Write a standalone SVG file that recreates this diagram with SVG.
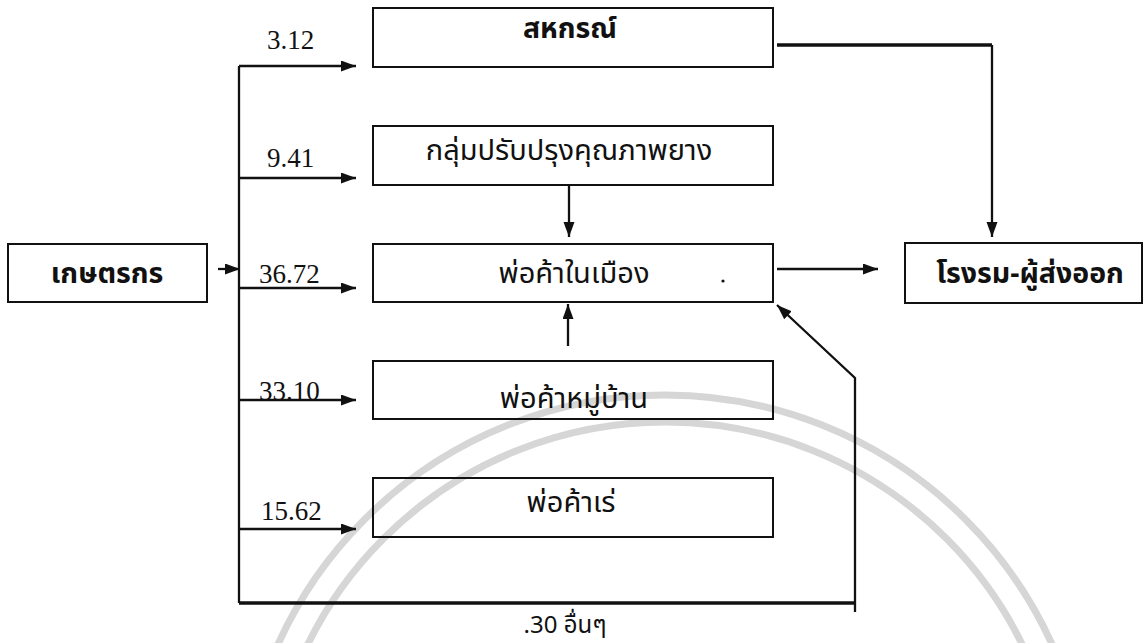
<svg xmlns="http://www.w3.org/2000/svg" width="1148" height="643" viewBox="0 0 1148 643">
<style>
.box{fill:none;stroke:#111;stroke-width:2}
.th{font-family:"Noto Sans Thai","Noto Sans Thai UI","Noto Sans","DejaVu Sans",sans-serif;font-size:29px;fill:#111;text-anchor:middle}
.b{font-weight:bold;font-size:28.5px}
.num{font-family:"Liberation Serif",serif;font-size:27px;fill:#111}
.c{fill:none;stroke:#111;stroke-width:2.3}
.thick{stroke-width:3.4}
.wm{fill:none;stroke:#d6d6d6;stroke-width:7}
</style>
<defs>
<marker id="ah" markerUnits="userSpaceOnUse" markerWidth="16" markerHeight="12" refX="15" refY="5.5" orient="auto"><path d="M0,0 L15,5.5 L0,11 z" fill="#111"/></marker>
</defs>
<rect x="0" y="0" width="1148" height="643" fill="#fff"/>
<g id="watermark">
<circle class="wm" cx="665" cy="820" r="425"/>
<circle class="wm" cx="665" cy="820" r="398"/>
</g>
<g id="connectors">
<polyline class="c" points="239,66 239,603"/>
<line class="c thick" x1="239" y1="603" x2="855" y2="603"/>
<line class="c" x1="239" y1="66" x2="356" y2="66" marker-end="url(#ah)"/>
<line class="c" x1="239" y1="178" x2="356" y2="178" marker-end="url(#ah)"/>
<line class="c" x1="239" y1="288" x2="356" y2="288" marker-end="url(#ah)"/>
<line class="c" x1="239" y1="400" x2="356" y2="400" marker-end="url(#ah)"/>
<line class="c" x1="239" y1="529" x2="356" y2="529" marker-end="url(#ah)"/>
<line class="c" x1="218" y1="269" x2="240" y2="269" marker-end="url(#ah)"/>
<line class="c" x1="569" y1="185" x2="569" y2="237" marker-end="url(#ah)"/>
<line class="c" x1="568" y1="346" x2="568" y2="304" marker-end="url(#ah)"/>
<line class="c" x1="777" y1="269" x2="878" y2="269" marker-end="url(#ah)"/>
<polyline class="c thick" points="777,45 992,45"/>
<line class="c" x1="992" y1="45" x2="992" y2="237" marker-end="url(#ah)"/>
<polyline class="c" points="855,612 855,378 777,305" marker-end="url(#ah)"/>
<text class="num" x="267" y="49">3.12</text>
<text class="num" x="267" y="167">9.41</text>
<text class="num" x="259" y="283">36.72</text>
<text class="num" x="259" y="400">33.10</text>
<text class="num" x="261" y="520">15.62</text>
<text class="th" x="565" y="633" style="font-size:24px">.30 อื่นๆ</text>
</g>
<g id="n-farmer"><rect class="box" x="8" y="244" width="199" height="58"/><text class="th b" x="107" y="283">เกษตรกร</text></g>
<g id="n-coop"><rect class="box" x="373" y="8" width="400" height="59"/><text class="th b" x="570" y="38">สหกรณ์</text></g>
<g id="n-group"><rect class="box" x="373" y="126" width="400" height="59"/><text class="th" x="569" y="160">กลุ่มปรับปรุงคุณภาพยาง</text></g>
<g id="n-city"><rect class="box" x="373" y="244" width="400" height="58"/><text class="th" x="574" y="283">พ่อค้าในเมือง</text><circle cx="723" cy="281" r="1.6" fill="#111"/></g>
<g id="n-village"><rect class="box" x="373" y="361" width="400" height="58"/><text class="th" x="574" y="408">พ่อค้าหมู่บ้าน</text></g>
<g id="n-mobile"><rect class="box" x="373" y="478" width="400" height="59"/><text class="th" x="571" y="512">พ่อค้าเร่</text></g>
<g id="n-factory"><rect class="box" x="905" y="243" width="237" height="60"/><text class="th b" x="1030" y="283">โรงรม-ผู้ส่งออก</text></g>
</svg>
